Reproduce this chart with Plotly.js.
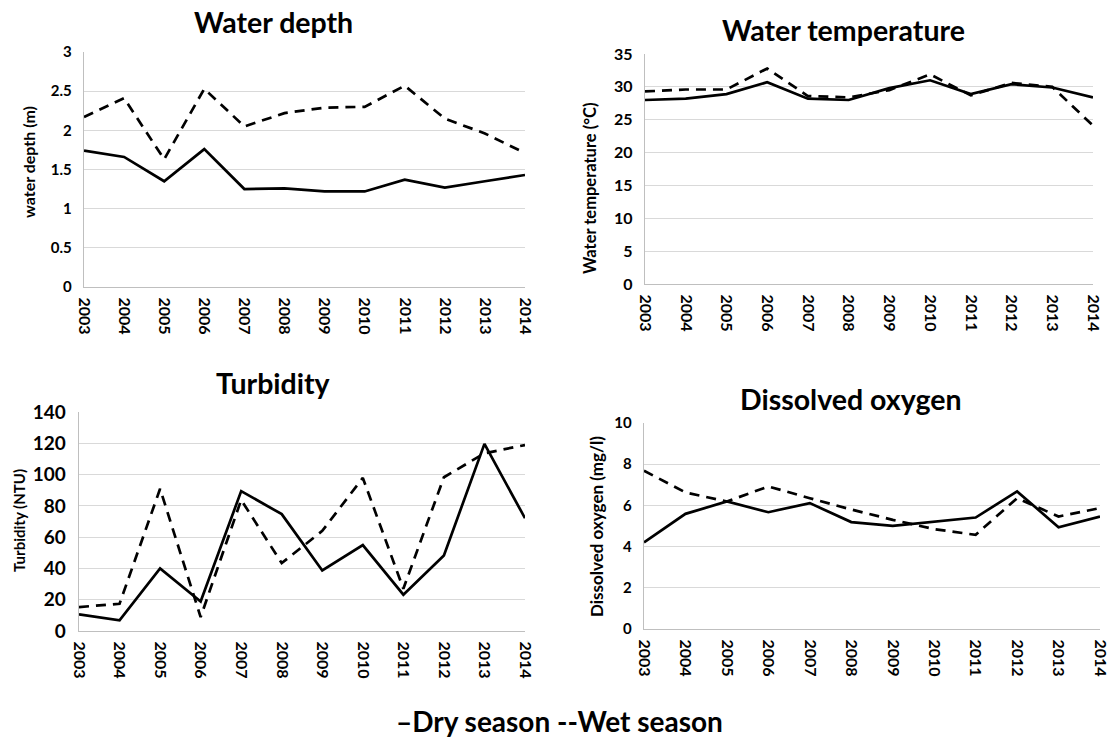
<!DOCTYPE html>
<html>
<head>
<meta charset="utf-8">
<script src="https://cdn.plot.ly/plotly-3.0.1.min.js"></script>
<style>html,body{margin:0;padding:0;background:#fff;}#chart{width:1114px;height:738px;}</style>
</head>
<body>
<div id="chart"></div>
<script>
const years = ["2003","2004","2005","2006","2007","2008","2009","2010","2011","2012","2013","2014"];

const depthDry = [1.74,1.66,1.35,1.76,1.25,1.26,1.22,1.22,1.37,1.27,1.35,1.43];
const depthWet = [2.17,2.41,1.63,2.53,2.05,2.22,2.29,2.30,2.57,2.15,1.96,1.71];

const tempDry = [28.0,28.2,28.9,30.7,28.2,28.0,29.8,31.0,28.9,30.4,29.9,28.4];
const tempWet = [29.3,29.6,29.6,32.8,28.6,28.4,29.5,31.9,28.7,30.6,30.0,24.1];

const turbDry = [10.6,6.8,40,18.9,89.4,74.7,38.7,54.9,23.2,48.3,119.6,72.1];
const turbWet = [15.3,17.4,90.9,8.9,83.8,43.4,64,97.9,27,98.3,113.6,118.9];

const doDry = [4.21,5.59,6.19,5.67,6.11,5.19,5.01,5.22,5.41,6.68,4.94,5.46];
const doWet = [7.68,6.63,6.19,6.92,6.35,5.80,5.30,4.85,4.57,6.35,5.46,5.87];

const panelTitles = ["Water depth","Water temperature","Turbidity","Dissolved oxygen"];
const yTitles = ["water depth (m)","Water temperature (°C)","Turbidity (NTU)","Dissolved oxygen (mg/l)"];
const yTickVals = [
  [0,0.5,1,1.5,2,2.5,3],
  [0,5,10,15,20,25,30,35],
  [0,20,40,60,80,100,120,140],
  [0,2,4,6,8,10]
];
const yTickText = [
  ["0","0.5","1","1.5","2","2.5","3"],
  ["0","5","10","15","20","25","30","35"],
  ["0","20","40","60","80","100","120","140"],
  ["0","2","4","6","8","10"]
];
const legendText = "\u2013Dry season --Wet season";

const W = 1114, H = 738;
const FONT = "Lato, 'Open Sans', sans-serif";
// plot boxes in pixels [left, right, top, bottom]
const boxes = [[84,525,52,287],[645,1093,54,284],[79,525,412,631],[644,1100,423,629]];
const tickSizes = [15,16,19,15];
const yTitleSizes = [16,16.5,15,17];
const titlePos = [[273,22],[843,30],[273,383],[850,399]];
const yTitlePos = [[29,162],[590,188],[19,521],[596,527]];

const series = [[depthDry,depthWet],[tempDry,tempWet],[turbDry,turbWet],[doDry,doWet]];
const b = s => "<b>" + s + "</b>";

const data = [];
const layout = {
  width: W, height: H,
  margin: {l:0,r:0,t:0,b:0},
  paper_bgcolor: "#ffffff", plot_bgcolor: "#ffffff",
  showlegend: false,
  font: {family: FONT, color: "#000"},
  annotations: []
};

for (let i = 0; i < 4; i++) {
  const sfx = i === 0 ? "" : String(i+1);
  const bx = boxes[i];
  data.push({x: years, y: series[i][0], type: "scatter", mode: "lines",
    line: {color: "#000", width: 2.7}, xaxis: "x"+sfx, yaxis: "y"+sfx, name: "Dry season"});
  data.push({x: years, y: series[i][1], type: "scatter", mode: "lines",
    line: {color: "#000", width: 2.7, dash: "10px,7px"}, xaxis: "x"+sfx, yaxis: "y"+sfx, name: "Wet season"});
  layout["xaxis"+sfx] = {
    domain: [bx[0]/W, bx[1]/W], anchor: "y"+sfx, type: "category",
    range: [0, 11], showgrid: false, zeroline: false,
    showline: true, linecolor: "#bfbfbf", linewidth: 1.3,
    tickmode: "array", tickvals: years, ticktext: years.map(b),
    tickangle: 90, ticks: "", ticklabelstandoff: 6,
    tickfont: {family: FONT, size: 16, color: "#000"}
  };
  layout["yaxis"+sfx] = {
    domain: [1 - bx[3]/H, 1 - bx[2]/H], anchor: "x"+sfx,
    range: [yTickVals[i][0], yTickVals[i][yTickVals[i].length-1]],
    tickmode: "array", tickvals: yTickVals[i], ticktext: yTickText[i].map(b),
    showgrid: true, gridcolor: "#d9d9d9", gridwidth: 1.2, zeroline: false,
    showline: true, linecolor: "#bfbfbf", linewidth: 1.3,
    ticks: "", ticklabelstandoff: 8,
    tickfont: {family: FONT, size: tickSizes[i], color: "#000"}
  };
  layout.annotations.push({
    text: b(panelTitles[i]), xref: "paper", yref: "paper",
    x: titlePos[i][0]/W, y: 1 - titlePos[i][1]/H, xanchor: "center", yanchor: "middle",
    showarrow: false, font: {family: FONT, size: 28.5, color: "#000"}
  });
  layout.annotations.push({
    text: b(yTitles[i]), xref: "paper", yref: "paper", textangle: -90,
    x: yTitlePos[i][0]/W, y: 1 - yTitlePos[i][1]/H, xanchor: "center", yanchor: "middle",
    showarrow: false, font: {family: FONT, size: yTitleSizes[i], color: "#000"}
  });
}

layout.annotations.push({
  text: b(legendText), xref: "paper", yref: "paper",
  x: 559/W, y: 1 - 721/H, xanchor: "center", yanchor: "middle",
  showarrow: false, font: {family: FONT, size: 28, color: "#000"}
});

Plotly.newPlot("chart", data, layout, {displayModeBar: false, staticPlot: true});
</script>
</body>
</html>
